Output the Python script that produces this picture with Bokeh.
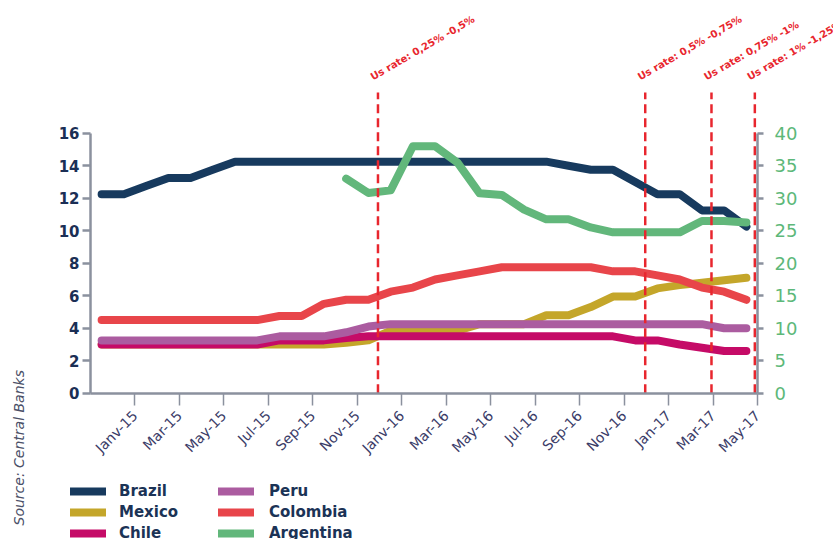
import numpy as np
from math import pi
from bokeh.plotting import figure
from bokeh.models import (Range1d, LinearAxis, FixedTicker, Legend, Label,
                          LabelSet, ColumnDataSource)
from bokeh.core.properties import value
from bokeh.embed import file_html
from bokeh.resources import INLINE

# ---------------- data ----------------
months = ["Dec-14", "Jan-15", "Feb-15", "Mar-15", "Apr-15", "May-15", "Jun-15",
          "Jul-15", "Aug-15", "Sep-15", "Oct-15", "Nov-15", "Dec-15", "Jan-16",
          "Feb-16", "Mar-16", "Apr-16", "May-16", "Jun-16", "Jul-16", "Aug-16",
          "Sep-16", "Oct-16", "Nov-16", "Dec-16", "Jan-17", "Feb-17", "Mar-17",
          "Apr-17", "May-17"]

brazil = [12.25, 12.25, 12.75, 13.25, 13.25, 13.75, 14.25, 14.25, 14.25, 14.25,
          14.25, 14.25, 14.25, 14.25, 14.25, 14.25, 14.25, 14.25, 14.25, 14.25,
          14.25, 14.0, 13.75, 13.75, 13.0, 12.25, 12.25, 11.25, 11.25, 10.25]
mexico = [3.0, 3.0, 3.0, 3.0, 3.0, 3.0, 3.0, 3.0, 3.0, 3.0,
          3.0, 3.1, 3.25, 3.85, 3.85, 3.85, 3.85, 4.25, 4.25, 4.25,
          4.8, 4.8, 5.3, 5.95, 5.95, 6.45, 6.65, 6.8, 6.95, 7.1]
chile = [3.0, 3.0, 3.0, 3.0, 3.0, 3.0, 3.0, 3.0, 3.25, 3.25,
         3.25, 3.4, 3.5, 3.5, 3.5, 3.5, 3.5, 3.5, 3.5, 3.5,
         3.5, 3.5, 3.5, 3.5, 3.25, 3.25, 3.0, 2.8, 2.6, 2.6]
peru = [3.25, 3.25, 3.25, 3.25, 3.25, 3.25, 3.25, 3.25, 3.5, 3.5,
        3.5, 3.75, 4.1, 4.25, 4.25, 4.25, 4.25, 4.25, 4.25, 4.25,
        4.25, 4.25, 4.25, 4.25, 4.25, 4.25, 4.25, 4.25, 4.0, 4.0]
colombia = [4.5, 4.5, 4.5, 4.5, 4.5, 4.5, 4.5, 4.5, 4.75, 4.75,
            5.5, 5.75, 5.75, 6.25, 6.5, 7.0, 7.25, 7.5, 7.75, 7.75,
            7.75, 7.75, 7.75, 7.5, 7.5, 7.25, 7.0, 6.5, 6.25, 5.75]
argentina = [None, None, None, None, None, None, None, None, None, None,
             None, 33.0, 30.8, 31.2, 38.0, 38.0, 35.5, 30.75, 30.5, 28.25,
             26.75, 26.75, 25.5, 24.75, 24.75, 24.75, 24.75, 26.5, 26.5, 26.25]

tick_months = ["Jan-15", "Mar-15", "May-15", "Jul-15", "Sep-15", "Nov-15",
               "Jan-16", "Mar-16", "May-16", "Jul-16", "Sep-16", "Nov-16",
               "Jan-17", "Mar-17", "May-17"]
tick_labels = ["Janv-15", "Mar-15", "May-15", "Jul-15", "Sep-15", "Nov-15",
               "Janv-16", "Mar-16", "May-16", "Jul-16", "Sep-16", "Nov-16",
               "Jan-17", "Mar-17", "May-17"]

left_ticks = [0, 2, 4, 6, 8, 10, 12, 14, 16]
right_ticks = [0, 5, 10, 15, 20, 25, 30, 35, 40]

hike_x = [12.93, 24.95, 27.93, 29.88]
hike_text = ["Us rate: 0,25% -0,5%", "Us rate: 0,5% -0,75%",
             "Us rate: 0,75% -1%", "Us rate: 1% -1,25%"]

# ---------------- styles ----------------
C_BR = "#173a5e"
C_MX = "#c4a62a"
C_CL = "#c50b67"
C_PE = "#ab5ca0"
C_CO = "#e8454a"
C_AR = "#62b77b"
RED = "#e8262e"
AXIS = "#8b919e"
FONT = "DejaVu Sans"

x = np.arange(len(months)) + 0.5
arg = np.array([np.nan if v is None else v for v in argentina], dtype=float)

# geometry (pixels in the canvas)
W, H = 833, 539
AX_L, AX_R = 90.0, 757.0      # x of left / right axis lines
AX_B = 392.7                  # y of the zero line
n = len(months)
pxx = (AX_R - AX_L) / n
pxy = 16.25
x0, x1 = -AX_L / pxx, n + (W - AX_R) / pxx
y0, y1 = -(H - AX_B) / pxy, AX_B / pxy

p = figure(width=W, height=H, output_backend="svg", toolbar_location=None,
           title=None, x_range=Range1d(x0, x1), y_range=Range1d(y0, y1),
           min_border=0, min_border_left=0, min_border_right=0,
           min_border_top=0, min_border_bottom=0)
p.extra_y_ranges = {"r": Range1d(y0 * 2.5, y1 * 2.5)}
p.grid.visible = False
p.outline_line_color = None
p.background_fill_color = "white"
p.border_fill_color = "white"

# left axis
ya = p.yaxis[0]
ya.fixed_location = 0
ya.ticker = FixedTicker(ticks=left_ticks)
ya.bounds = (0, 16)
ya.axis_line_color = AXIS
ya.axis_line_width = 2.5
ya.major_tick_line_color = AXIS
ya.major_tick_line_width = 2.5
ya.major_tick_out = 8
ya.major_tick_in = 0
ya.minor_tick_line_color = None
ya.major_label_text_font = FONT
ya.major_label_text_font_style = "bold"
ya.major_label_text_font_size = "15px"
ya.major_label_text_color = "#1b2f55"
ya.major_label_standoff = 3

# bottom axis
xa = p.xaxis[0]
xa.fixed_location = 0
tick_pos = [months.index(m) + 1 for m in tick_months]
xa.ticker = FixedTicker(ticks=tick_pos)
xa.major_label_overrides = {tp: lab for tp, lab in zip(tick_pos, tick_labels)}
xa.bounds = (0, n)
xa.major_label_orientation = pi / 4
xa.axis_line_color = AXIS
xa.axis_line_width = 2.5
xa.major_tick_line_color = AXIS
xa.major_tick_line_width = 1.5
xa.major_tick_out = 12
xa.major_tick_in = 0
xa.minor_tick_line_color = None
xa.major_label_text_font = FONT
xa.major_label_text_font_size = "14px"
xa.major_label_text_color = "#3b3c68"
xa.major_label_standoff = 8

# right axis
ra = LinearAxis(y_range_name="r", ticker=FixedTicker(ticks=right_ticks))
ra.fixed_location = n
ra.bounds = (0, 40)
ra.axis_line_color = AXIS
ra.axis_line_width = 2.5
ra.major_tick_line_color = AXIS
ra.major_tick_line_width = 2.5
ra.major_tick_out = 6
ra.major_tick_in = 0
ra.minor_tick_line_color = None
ra.major_label_text_font = FONT
ra.major_label_text_font_size = "18px"
ra.major_label_text_color = "#5db879"
ra.major_label_standoff = 11
p.add_layout(ra, "right")

LW = 8
kw = dict(line_width=LW, line_cap="round", line_join="round")
r_mx = p.line(x, mexico, line_color=C_MX, **kw)
r_cl = p.line(x, chile, line_color=C_CL, **kw)
r_pe = p.line(x, peru, line_color=C_PE, **kw)
r_co = p.line(x, colombia, line_color=C_CO, **kw)
r_br = p.line(x, brazil, line_color=C_BR, **kw)
r_ar = p.line(x, arg, line_color=C_AR, y_range_name="r", **kw)

# US rate hikes
top_line = (AX_B - 92) / pxy
p.segment(x0=hike_x, y0=[0] * len(hike_x), x1=hike_x, y1=[top_line] * len(hike_x),
          line_color=RED, line_width=2.5, line_dash="9 5")

lab_y = (AX_B - 80) / pxy
src = ColumnDataSource(dict(x=[h - 5 / pxx for h in hike_x],
                            y=[lab_y] * len(hike_x), t=hike_text))
p.add_layout(LabelSet(x="x", y="y", text="t", source=src, angle=pi / 6,
                      text_font=value(FONT), text_font_style="bold",
                      text_font_size="10px", text_color=RED,
                      text_align="left", text_baseline="alphabetic"))

# legends (two columns)
common = dict(orientation="vertical", glyph_width=36, glyph_height=20,
              label_height=20, spacing=1, padding=0, margin=0,
              border_line_color=None, background_fill_alpha=0,
              label_text_font=FONT, label_text_font_size="15px",
              label_text_font_style="bold", label_text_color="#1b3356")
leg_bottom = H - (481 + 62)
leg1 = Legend(items=[("Brazil", [r_br]), ("Mexico", [r_mx]), ("Chile", [r_cl])],
              location=(70, leg_bottom), label_standoff=13, **common)
leg2 = Legend(items=[("Peru", [r_pe]), ("Colombia", [r_co]), ("Argentina", [r_ar])],
              location=(218, leg_bottom), label_standoff=15, **common)
p.add_layout(leg1)
p.add_layout(leg2)

p.add_layout(Label(x=18, y=H - 525, x_units="screen", y_units="screen",
                   text="Source: Central Banks", angle=pi / 2,
                   text_font=FONT, text_font_style="italic", text_font_size="14px",
                   text_color="#4b5068", text_align="left", text_baseline="middle"))

open("out.html", "w").write(file_html(p, INLINE))
